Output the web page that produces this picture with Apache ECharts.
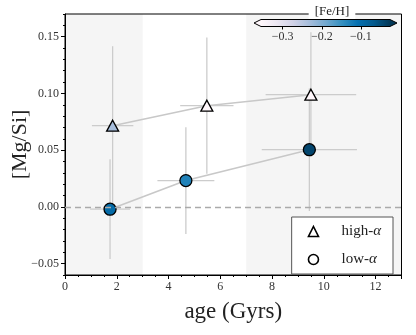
<!DOCTYPE html>
<html>
<head>
<meta charset="utf-8">
<script src="https://cdn.jsdelivr.net/npm/echarts@6/dist/echarts.min.js"></script>
<style>
  html, body { margin: 0; padding: 0; background: #fff; }
  #chart { width: 416px; height: 335px; }
</style>
</head>
<body>
<div id="chart"></div>
<script>
// high-alpha bins
var highAge = [1.84, 5.48, 9.5];
var highAgeErr = [0.8, 1.03, 1.75];
var highMgSi = [0.0716, 0.0892, 0.0989];
var highMgSiErr = [0.07, 0.06, 0.055];
var highFeH = [-0.232, -0.36, -0.36];

// low-alpha bins
var lowAge = [1.74, 4.67, 9.44];
var lowAgeErr = [0.77, 1.1, 1.84];
var lowMgSi = [-0.002, 0.0232, 0.0504];
var lowMgSiErr = [0.044, 0.047, 0.054];
var lowFeH = [-0.098, -0.131, -0.042];

// shaded age ranges
var shadeRanges = [[0, 3], [7, 13]];

var xTicks = [0, 2, 4, 6, 8, 10, 12];
var yTicks = [-0.05, 0, 0.05, 0.10, 0.15];
var fehTicks = [-0.3, -0.2, -0.1];
var fehRange = [-0.355, -0.026];
var PuBu = ['#fff7fb', '#ece7f2', '#d0d1e6', '#a6bddb', '#74a9cf', '#3690c0', '#0570b0', '#045a8d', '#023858'];

var serif = 'Liberation Serif';
var minus = v => String(v).replace('-', '\u2212');

var chart = echarts.init(document.getElementById('chart'));

function zip(a, b, c, d) {
    return a.map((v, i) => d ? [v, b[i], c[i], d[i]] : [v, b[i], c[i]]);
}

function errRender(params, api) {
    var x = api.value(0), y = api.value(1), xe = api.value(2), ye = api.value(3);
    var l = api.coord([x - xe, y]), r = api.coord([x + xe, y]);
    var b = api.coord([x, y - ye]), t = api.coord([x, y + ye]);
    var st = { stroke: '#cccccc', lineWidth: 1.3 };
    return {
        type: 'group',
        children: [
            { type: 'line', shape: { x1: l[0], y1: l[1], x2: r[0], y2: r[1] }, style: st },
            { type: 'line', shape: { x1: b[0], y1: b[1], x2: t[0], y2: t[1] }, style: st }
        ]
    };
}

var option = {
    animation: false,
    textStyle: { fontFamily: serif },
    title: {
        text: '[Fe/H]',
        left: 326,
        top: 5,
        textAlign: 'center',
        backgroundColor: '#fff',
        padding: [0, 6],
        textStyle: { fontFamily: serif, fontSize: 13, fontWeight: 'normal', color: '#222', lineHeight: 14 }
    },
    grid: [
        { left: 65, top: 14, right: 14.5, bottom: 60, show: true, borderColor: '#000', borderWidth: 1, outerBoundsMode: 'none' },
        { left: 261, top: 19.5, width: 129, height: 7, outerBoundsMode: 'none' }
    ],
    legend: {
        orient: 'vertical',
        right: 23,
        top: 217,
        backgroundColor: '#fff',
        borderColor: '#555',
        borderWidth: 1,
        borderRadius: 0,
        padding: [7, 12, 7, 16],
        itemWidth: 10,
        itemHeight: 10,
        itemGap: 13,
        data: [
            { name: 'high-α', icon: 'triangle', itemStyle: { color: '#fff', borderColor: '#000', borderWidth: 1.6 } },
            { name: 'low-α', icon: 'circle', itemStyle: { color: '#fff', borderColor: '#000', borderWidth: 1.6 } }
        ],
        formatter: name => name.replace('α', '{a|α}'),
        textStyle: {
            fontFamily: serif, fontSize: 15, color: '#222', padding: [0, 0, 0, 18],
            rich: { a: { fontFamily: serif, fontSize: 15, fontStyle: 'italic', color: '#222' } }
        }
    },
    visualMap: {
        type: 'continuous',
        show: false,
        min: fehRange[0],
        max: fehRange[1],
        dimension: 2,
        seriesIndex: [4, 5],
        inRange: { color: PuBu }
    },
    xAxis: [
        {
            gridIndex: 0, type: 'value', min: 0, max: 13, interval: 2,
            name: 'age (Gyrs)', nameLocation: 'middle', nameGap: 25,
            nameTextStyle: { fontFamily: serif, fontSize: 23, color: '#222' },
            axisLine: { show: true, onZero: false, lineStyle: { color: '#000', width: 1 } },
            axisTick: { show: true, inside: false, length: 4, lineStyle: { color: '#000' } },
            minorTick: { show: true, splitNumber: 4, length: 2, lineStyle: { color: '#000' } },
            axisLabel: { customValues: xTicks, fontFamily: serif, fontSize: 12, color: '#333', margin: 6 },
            splitLine: { show: false }
        },
        {
            gridIndex: 1, type: 'value', min: fehRange[0], max: fehRange[1],
            axisLine: { show: false, onZero: false },
            axisTick: { show: true, inside: false, length: 3, customValues: fehTicks, lineStyle: { color: '#000' } },
            axisLabel: { show: true, customValues: fehTicks, formatter: v => minus(v.toFixed(1)), fontFamily: serif, fontSize: 12, color: '#333', margin: 4 },
            splitLine: { show: false }
        }
    ],
    yAxis: [
        {
            gridIndex: 0, type: 'value', min: -0.06, max: 0.17, position: 'left',
            name: '[Mg/Si]', nameLocation: 'middle', nameGap: 34, nameMoveOverlap: false,
            nameTextStyle: { fontFamily: serif, fontSize: 22, color: '#222' },
            axisLine: { show: true, onZero: false, lineStyle: { color: '#000', width: 1 } },
            axisTick: { show: true, inside: false, length: 4, customValues: yTicks, lineStyle: { color: '#000' } },
            axisLabel: { customValues: yTicks, formatter: v => minus(v.toFixed(2)), fontFamily: serif, fontSize: 12, color: '#333', margin: 6 },
            splitLine: { show: false }
        },
        {
            gridIndex: 0, type: 'value', min: -0.06, max: 0.17, interval: 0.01, position: 'left', offset: 0,
            axisLine: { show: false, onZero: false },
            axisTick: { show: true, inside: false, length: 2, lineStyle: { color: '#000' } },
            axisLabel: { show: false },
            splitLine: { show: false }
        },
        {
            gridIndex: 1, type: 'value', min: 0, max: 1, show: false
        }
    ],
    series: [
        {
            // shaded age ranges
            type: 'custom', xAxisIndex: 0, yAxisIndex: 0, z: -5, silent: true,
            data: shadeRanges,
            renderItem: (params, api) => {
                var p0 = api.coord([api.value(0), 0.17]);
                var p1 = api.coord([api.value(1), -0.06]);
                return { type: 'rect', shape: { x: p0[0], y: p0[1], width: p1[0] - p0[0], height: p1[1] - p0[1] }, style: { fill: '#f5f5f5' } };
            },
            markLine: {
                silent: true, symbol: 'none', label: { show: false },
                lineStyle: { color: '#aaaaaa', type: [6, 4], width: 1.3 },
                data: [{ yAxis: 0 }]
            }
        },
        {
            type: 'custom', xAxisIndex: 0, yAxisIndex: 0, z: 1, silent: true,
            data: zip(highAge, highMgSi, highAgeErr, highMgSiErr),
            renderItem: errRender
        },
        {
            type: 'custom', xAxisIndex: 0, yAxisIndex: 0, z: 1, silent: true,
            data: zip(lowAge, lowMgSi, lowAgeErr, lowMgSiErr),
            renderItem: errRender
        },
        {
            type: 'line', xAxisIndex: 0, yAxisIndex: 0, z: 2, silent: true,
            showSymbol: false, symbol: 'none',
            lineStyle: { color: '#c8c8c8', width: 1.6 },
            data: highAge.map((v, i) => [v, highMgSi[i]])
        },
        {
            name: 'high-α', type: 'scatter', xAxisIndex: 0, yAxisIndex: 0, z: 4,
            symbol: 'triangle', symbolSize: [12, 11],
            itemStyle: { borderColor: '#000', borderWidth: 1.3, opacity: 1 },
            data: zip(highAge, highMgSi, highFeH)
        },
        {
            name: 'low-α', type: 'scatter', xAxisIndex: 0, yAxisIndex: 0, z: 4,
            symbol: 'circle', symbolSize: 12,
            itemStyle: { borderColor: '#000', borderWidth: 1.3, opacity: 1 },
            data: zip(lowAge, lowMgSi, lowFeH)
        },
        {
            type: 'line', xAxisIndex: 0, yAxisIndex: 0, z: 2, silent: true,
            showSymbol: false, symbol: 'none',
            lineStyle: { color: '#c8c8c8', width: 1.6 },
            data: lowAge.map((v, i) => [v, lowMgSi[i]])
        },
        {
            // colorbar
            type: 'custom', xAxisIndex: 1, yAxisIndex: 2, silent: true,
            data: [fehRange],
            renderItem: (params, api) => {
                var a = api.coord([api.value(0), 1]);
                var b = api.coord([api.value(1), 0]);
                var h = b[1] - a[1];
                var mid = a[1] + h / 2;
                var tip = 7;
                var stops = PuBu.map((c, i) => ({ offset: i / (PuBu.length - 1), color: c }));
                var outline = [[a[0] - tip, mid], [a[0], a[1]], [b[0], a[1]], [b[0] + tip, mid], [b[0], b[1]], [a[0], b[1]]];
                return {
                    type: 'group',
                    children: [
                        { type: 'polygon', shape: { points: [[a[0] - tip, mid], [a[0], a[1]], [a[0], b[1]]] }, style: { fill: PuBu[0] } },
                        { type: 'polygon', shape: { points: [[b[0] + tip, mid], [b[0], a[1]], [b[0], b[1]]] }, style: { fill: PuBu[PuBu.length - 1] } },
                        { type: 'rect', shape: { x: a[0], y: a[1], width: b[0] - a[0], height: h }, style: { fill: new echarts.graphic.LinearGradient(0, 0, 1, 0, stops) } },
                        { type: 'polygon', shape: { points: outline }, style: { fill: 'none', stroke: '#000', lineWidth: 1 } }
                    ]
                };
            }
        }
    ]
};

chart.setOption(option);
</script>
</body>
</html>
